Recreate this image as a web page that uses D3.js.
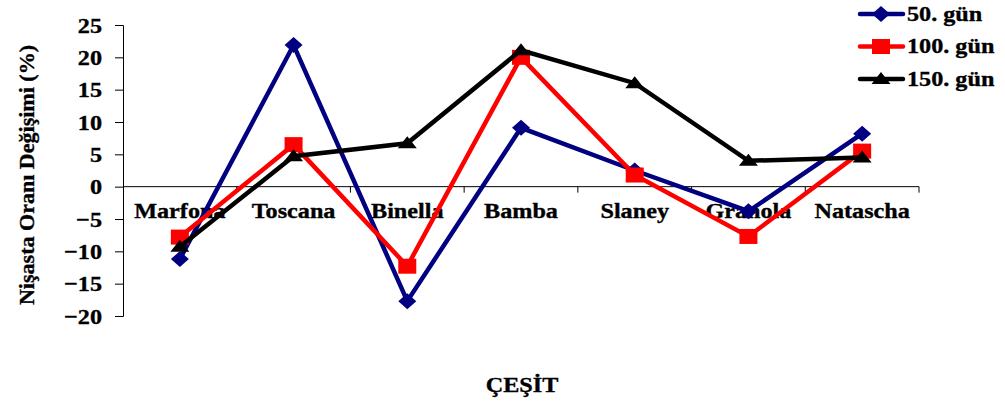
<!DOCTYPE html>
<html>
<head>
<meta charset="utf-8">
<script src="https://cdn.jsdelivr.net/npm/d3@7/dist/d3.min.js"></script>
<style>
  html, body { margin: 0; padding: 0; background: #fff; }
  svg { display: block; }
  text { font-family: "Liberation Serif", "Times New Roman", serif; font-weight: bold; fill: #000; stroke: #000; stroke-width: 0.35px; }
</style>
</head>
<body>
<svg id="chart" width="1005" height="403"></svg>
<script>
// Starch change per variety at three storage times
const categories = ["Marfona", "Toscana", "Binella", "Bamba", "Slaney", "Granola", "Natascha"];
const gun50  = [-11.2, 21.9, -17.7, 9.1, 2.5, -3.8, 8.2];
const gun100 = [-7.8, 6.5, -12.3, 20.0, 1.8, -7.7, 5.5];
const gun150 = [-9.3, 4.7, 6.7, 21.1, 16.0, 4.0, 4.5];
const yTicks = [-20, -15, -10, -5, 0, 5, 10, 15, 20, 25];
const seriesNames = ["50. gün", "100. gün", "150. gün"];

const series = [
  { name: seriesNames[0], values: gun50,  color: "#000080", marker: "diamond" },
  { name: seriesNames[1], values: gun100, color: "#ff0000", marker: "square" },
  { name: seriesNames[2], values: gun150, color: "#000000", marker: "triangle" }
];

const svg = d3.select("#chart");
const plotLeft = 123, plotRight = 919, plotTop = 25, plotBottom = 316;
const SX = 1.1; // wide letterforms

const x = d3.scaleBand().domain(categories).range([plotLeft, plotRight]);
const y = d3.scaleLinear().domain([-20, 25]).range([plotBottom, plotTop]);

// text helper: widened bold serif
function label(parent, tx, ty, str, size, anchor) {
  return parent.append("text")
    .attr("transform", `translate(${tx},${ty}) scale(${SX},1)`)
    .attr("text-anchor", anchor || "start")
    .style("font-size", size + "px")
    .text(str);
}

// Y axis
const yAxis = svg.append("g")
  .attr("transform", `translate(${plotLeft},0)`)
  .call(d3.axisLeft(y).tickValues(yTicks).tickSize(8).tickFormat(""));
yAxis.select(".domain").attr("stroke", "#000").attr("stroke-width", 1);
yAxis.selectAll(".tick line").attr("stroke", "#000");
const yLabels = svg.append("g");
yTicks.forEach(t => label(yLabels, 102, y(t) + 7.5, d3.format("d")(t), 22, "end"));

// X axis along zero, with boundary ticks
const xAxisG = svg.append("g").attr("transform", `translate(0,${y(0)})`);
xAxisG.append("line").attr("x1", plotLeft).attr("x2", plotRight).attr("stroke", "#000").attr("stroke-width", 1);
const bounds = categories.slice(1).map(c => x(c)).concat([plotRight]);
xAxisG.selectAll("line.tk").data(bounds).enter().append("line")
  .attr("class", "tk").attr("x1", d => d).attr("x2", d => d).attr("y1", 0).attr("y2", 6)
  .attr("stroke", "#000");

// Category labels
const catG = svg.append("g");
categories.forEach(c => label(catG, x(c) + x.bandwidth() / 2, y(0) + 31.5, c, 22, "middle"));

// Lines and markers
const line = d3.line().x((d, i) => x(categories[i]) + x.bandwidth() / 2).y(d => y(d));

function drawMarker(g, type, cx, cy, color) {
  if (type === "diamond") {
    g.append("path").attr("d", `M${cx},${cy - 8}L${cx + 9},${cy}L${cx},${cy + 8}L${cx - 9},${cy}Z`).attr("fill", color);
  } else if (type === "square") {
    g.append("rect").attr("x", cx - 9).attr("y", cy - 7.5).attr("width", 18).attr("height", 15).attr("fill", color);
  } else {
    g.append("path").attr("d", `M${cx},${cy - 7}L${cx + 9.5},${cy + 5}L${cx - 9.5},${cy + 5}Z`).attr("fill", color);
  }
}

series.forEach(s => {
  const g = svg.append("g");
  g.append("path").datum(s.values).attr("d", line)
    .attr("fill", "none").attr("stroke", s.color).attr("stroke-width", 4.5).attr("stroke-linejoin", "miter");
  s.values.forEach((v, i) => drawMarker(g, s.marker, x(categories[i]) + x.bandwidth() / 2, y(v), s.color));
});

// Legend
const legend = svg.append("g");
series.forEach((s, i) => {
  const ly = 14 + i * 32.5;
  legend.append("line").attr("x1", 860).attr("x2", 903).attr("y1", ly).attr("y2", ly)
    .attr("stroke", s.color).attr("stroke-width", 4.5).attr("stroke-linecap", "round");
  drawMarker(legend, s.marker, 881, ly, s.color);
  label(legend, 907, ly + 6.5, s.name, 22, "start");
});

// Axis titles
svg.append("text")
  .attr("transform", `translate(34,175) rotate(-90) scale(1.05,1)`)
  .attr("text-anchor", "middle")
  .style("font-size", "21px")
  .text("Nişasta Oranı Değişimi (%)");

label(svg, 522, 392, "ÇEŞİT", 22, "middle");
</script>
</body>
</html>
